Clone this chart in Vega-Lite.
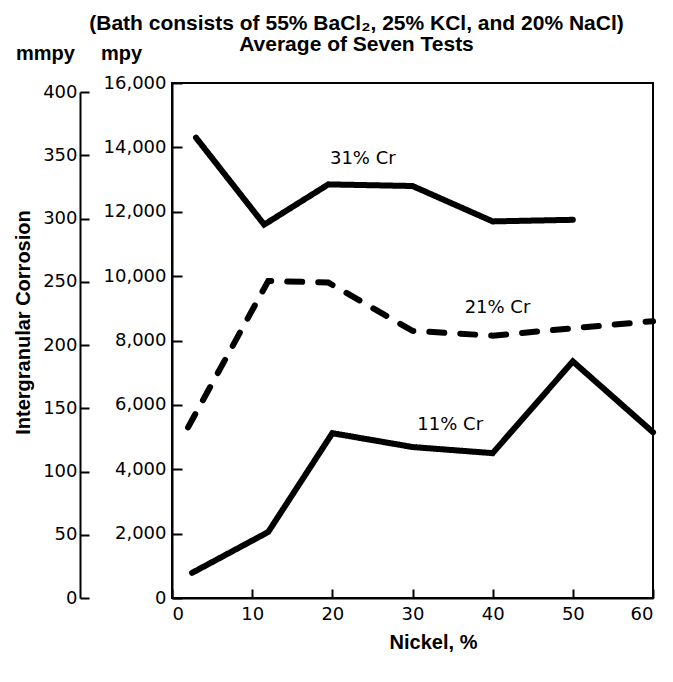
{
  "$schema": "https://vega.github.io/schema/vega-lite/v6.json",
  "width": 481,
  "height": 515,
  "autosize": {"type": "none"},
  "padding": {"left": 172, "top": 83, "right": 20, "bottom": 84},
  "background": "white",
  "title": {
    "text": ["(Bath consists of 55% BaCl₂, 25% KCl, and 20% NaCl)", "Average of Seven Tests"],
    "font": "Liberation Sans",
    "fontSize": 21,
    "fontWeight": "bold",
    "color": "black",
    "anchor": "middle",
    "dx": -56,
    "dy": 40,
    "offset": 28,
    "lineHeight": 21
  },
  "datasets": {
    "curves": [
      {"series": "31% Cr", "nickel": 3, "mpy": 14300},
      {"series": "31% Cr", "nickel": 11.5, "mpy": 11600},
      {"series": "31% Cr", "nickel": 19.5, "mpy": 12850},
      {"series": "31% Cr", "nickel": 30, "mpy": 12800},
      {"series": "31% Cr", "nickel": 40, "mpy": 11700},
      {"series": "31% Cr", "nickel": 50, "mpy": 11750},
      {"series": "21% Cr", "nickel": 2, "mpy": 5300},
      {"series": "21% Cr", "nickel": 12, "mpy": 9850},
      {"series": "21% Cr", "nickel": 19.5, "mpy": 9800},
      {"series": "21% Cr", "nickel": 30, "mpy": 8300},
      {"series": "21% Cr", "nickel": 40, "mpy": 8150},
      {"series": "21% Cr", "nickel": 50, "mpy": 8380},
      {"series": "21% Cr", "nickel": 60, "mpy": 8600},
      {"series": "11% Cr", "nickel": 2.5, "mpy": 780},
      {"series": "11% Cr", "nickel": 12, "mpy": 2050},
      {"series": "11% Cr", "nickel": 20, "mpy": 5120},
      {"series": "11% Cr", "nickel": 30, "mpy": 4690},
      {"series": "11% Cr", "nickel": 40, "mpy": 4500},
      {"series": "11% Cr", "nickel": 50, "mpy": 7350},
      {"series": "11% Cr", "nickel": 60, "mpy": 5150}
    ],
    "labels": [
      {"text": "31% Cr", "nickel": 23.8, "mpy": 13640},
      {"text": "21% Cr", "nickel": 40.6, "mpy": 9010},
      {"text": "11% Cr", "nickel": 34.7, "mpy": 5375}
    ],
    "mmscale": [
      {"mm": 0},
      {"mm": 400}
    ]
  },
  "layer": [
    {
      "data": {"name": "mmscale"},
      "mark": {"type": "point", "opacity": 0},
      "encoding": {
        "y": {
          "field": "mm",
          "type": "quantitative",
          "scale": {"domain": [0, 400], "range": [515, 9], "nice": false, "zero": false},
          "axis": {
            "orient": "left",
            "offset": 92,
            "values": [0, 50, 100, 150, 200, 250, 300, 350, 400],
            "tickSize": -9,
            "labelPadding": 12,
            "title": "mmpy",
            "titleAngle": 0,
            "titleAlign": "center",
            "titleBaseline": "middle",
            "titleX": -35,
            "titleY": -30
          }
        }
      }
    },
    {
      "data": {"name": "mmscale"},
      "mark": {"type": "point", "opacity": 0},
      "encoding": {
        "y": {
          "field": "mm",
          "type": "quantitative",
          "scale": {"domain": [0, 400], "nice": false},
          "axis": {
            "orient": "left",
            "offset": 0,
            "domain": false,
            "ticks": false,
            "labels": false,
            "title": "Intergranular Corrosion",
            "titleAngle": -90,
            "titleAlign": "center",
            "titleBaseline": "middle",
            "titleX": -149,
            "titleY": 239
          }
        }
      }
    },
    {
      "layer": [
        {
          "data": {"name": "curves"},
          "mark": {"type": "line", "color": "black", "strokeWidth": 6, "strokeCap": "round", "strokeJoin": "miter"},
          "encoding": {
            "x": {
              "field": "nickel",
              "type": "quantitative",
              "scale": {"domain": [0, 60], "nice": false},
              "axis": {
                "values": [0, 10, 20, 30, 40, 50, 60],
                "tickSize": -9,
                "labelPadding": 16,
                "title": "Nickel, %",
                "titleX": 261,
                "titleY": 44,
                "titleBaseline": "middle",
                "titleAlign": "center"
              }
            },
            "y": {
              "field": "mpy",
              "type": "quantitative",
              "scale": {"domain": [0, 16000], "nice": false},
              "axis": {
                "orient": "left",
                "values": [0, 2000, 4000, 6000, 8000, 10000, 12000, 14000, 16000],
                "format": ",d",
                "tickSize": -10,
                "labelPadding": 16,
                "title": "mpy",
                "titleAngle": 0,
                "titleAlign": "center",
                "titleBaseline": "middle",
                "titleX": -51,
                "titleY": -30
              }
            },
            "detail": {"field": "series"},
            "strokeDash": {
              "field": "series",
              "type": "nominal",
              "scale": {"domain": ["11% Cr", "21% Cr", "31% Cr"], "range": [[1, 0], [15, 16], [1, 0]]},
              "legend": null
            }
          }
        },
        {
          "data": {"name": "labels"},
          "mark": {"type": "text", "font": "DejaVu Sans", "fontSize": 18, "color": "black", "align": "center", "baseline": "middle"},
          "encoding": {
            "x": {"field": "nickel", "type": "quantitative"},
            "y": {"field": "mpy", "type": "quantitative"},
            "text": {"field": "text"}
          }
        }
      ]
    }
  ],
  "resolve": {"scale": {"y": "independent"}, "axis": {"y": "independent"}},
  "config": {
    "view": {"stroke": "black", "strokeWidth": 2},
    "axis": {
      "grid": false,
      "domainColor": "black",
      "domainWidth": 2,
      "tickColor": "black",
      "tickWidth": 2,
      "labelFont": "DejaVu Sans",
      "labelFontSize": 18,
      "labelColor": "black",
      "titleFont": "Liberation Sans",
      "titleFontSize": 20,
      "titleFontWeight": "bold",
      "titleColor": "black"
    }
  }
}
